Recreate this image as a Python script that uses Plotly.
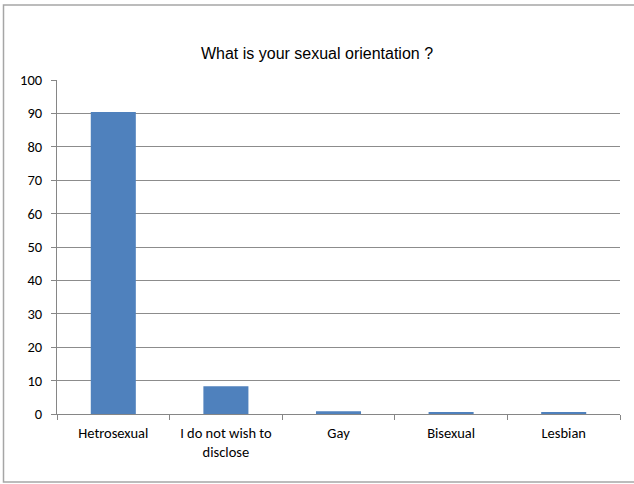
import plotly.graph_objects as go

categories = ["Hetrosexual", "I do not wish to<br>disclose", "Gay", "Bisexual", "Lesbian"]
values = [90.4, 8.3, 0.8, 0.6, 0.4]
y_ticks = [0, 10, 20, 30, 40, 50, 60, 70, 80, 90, 100]

W, H = 634, 484
L, R, T, B = 57, 14, 80, 70
pw = W - L - R
ph = H - T - B

fig = go.Figure(go.Bar(
    x=categories, y=values,
    marker=dict(color="#4F81BD", line=dict(width=0)),
    hoverinfo="skip",
))

tick_font = dict(family="Carlito, Calibri, Lato, sans-serif", size=14.5, color="#000000")

fig.update_layout(
    width=W, height=H,
    margin=dict(l=L, r=R, t=T, b=B),
    paper_bgcolor="white", plot_bgcolor="white",
    bargap=0.6,
    showlegend=False,
    title=dict(text="What is your sexual orientation ?", x=0.5, xref="container", xanchor="center",
               y=1 - 53 / H, yref="container", yanchor="middle",
               font=dict(family="Liberation Sans, Arial, sans-serif", size=16, color="#000000")),
    xaxis=dict(type="category", tickson="boundaries", ticks="outside", ticklen=5, tickcolor="#868686",
               showline=True, linecolor="#868686", linewidth=1, showgrid=False,
               tickfont=tick_font, ticklabelstandoff=6, fixedrange=True),
    yaxis=dict(range=[0, 100], tickvals=y_ticks, ticks="outside", ticklen=5, tickcolor="#868686",
               showline=True, linecolor="#868686", linewidth=1,
               showgrid=True, gridcolor="#8C8C8C", gridwidth=1, zeroline=False,
               tickfont=tick_font, ticklabelstandoff=6, fixedrange=True),
    shapes=[
        dict(type="rect", xref="paper", yref="paper",
             x0=(3.5 - L) / pw, x1=(640 - L) / pw,
             y0=(H - B - 482) / ph, y1=(H - B - 5) / ph,
             line=dict(color="#A6A6A6", width=1.5), fillcolor="rgba(0,0,0,0)", layer="below"),
    ],
)

fig.write_html("out.html")
